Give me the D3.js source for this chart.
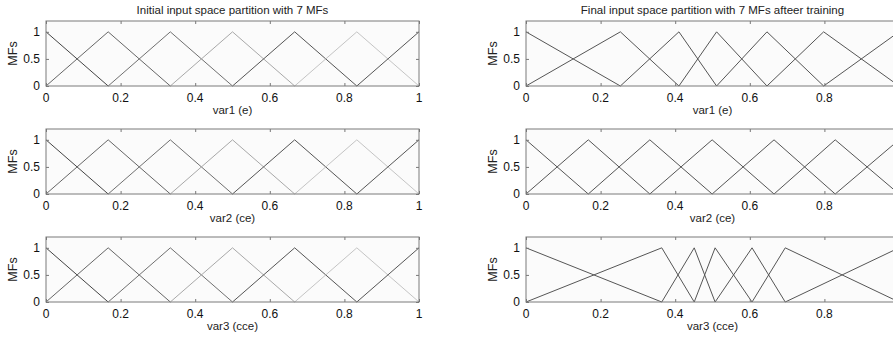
<!DOCTYPE html>
<html>
<head>
<meta charset="utf-8">
<script src="https://cdn.jsdelivr.net/npm/d3@7"></script>
<style>
  html, body { margin: 0; padding: 0; background: #fff; overflow: hidden; }
  svg { display: block; font-family: "Liberation Sans", Arial, Helvetica, sans-serif; }
</style>
</head>
<body>
<svg id="chart" width="893" height="338"></svg>
<script>
// Triangular membership functions [left foot, peak, right foot] for each input.
const initialVar1 = [[-0.1667, 0, 0.1667], [0, 0.1667, 0.3333], [0.1667, 0.3333, 0.5], [0.3333, 0.5, 0.6667], [0.5, 0.6667, 0.8333], [0.6667, 0.8333, 1], [0.8333, 1, 1.1667]];
const initialVar2 = [[-0.1667, 0, 0.1667], [0, 0.1667, 0.3333], [0.1667, 0.3333, 0.5], [0.3333, 0.5, 0.6667], [0.5, 0.6667, 0.8333], [0.6667, 0.8333, 1], [0.8333, 1, 1.1667]];
const initialVar3 = [[-0.1667, 0, 0.1667], [0, 0.1667, 0.3333], [0.1667, 0.3333, 0.5], [0.3333, 0.5, 0.6667], [0.5, 0.6667, 0.8333], [0.6667, 0.8333, 1], [0.8333, 1, 1.1667]];

const trainedVar1 = [[-0.253, 0, 0.253], [0, 0.253, 0.41], [0.253, 0.41, 0.511], [0.41, 0.511, 0.646], [0.511, 0.646, 0.798], [0.646, 0.798, 1.0], [0.798, 1.0, 1.2]];
const trainedVar2 = [[-0.167, 0, 0.167], [0, 0.167, 0.332], [0.167, 0.332, 0.499], [0.332, 0.499, 0.665], [0.499, 0.665, 0.829], [0.665, 0.829, 1.0], [0.829, 1.0, 1.17]];
const trainedVar3 = [[-0.364, 0, 0.364], [0, 0.364, 0.451], [0.364, 0.451, 0.507], [0.451, 0.507, 0.606], [0.507, 0.606, 0.695], [0.606, 0.695, 1.0], [0.695, 1.0, 1.3]];

const xLabels = ["var1 (e)", "var2 (ce)", "var3 (cce)"];
const xTicks = [0, 0.2, 0.4, 0.6, 0.8, 1];
const yTicks = [0, 0.5, 1];
const titles = ["Initial input space partition with 7 MFs", "Final input space partition with 7 MFs afteer training"];

// Grey levels of the seven curves in each column
const initialShades = ["#444", "#666", "#707070", "#a8a8a8", "#555", "#c4c4c4", "#555"];
const trainedShades = ["#555", "#555", "#555", "#555", "#555", "#555", "#555"];

const W = 893;
const svg = d3.select("#chart");

const columns = [
  { left: 46, sets: [initialVar1, initialVar2, initialVar3], shades: initialShades, title: titles[0] },
  { left: 526, sets: [trainedVar1, trainedVar2, trainedVar3], shades: trainedShades, title: titles[1] }
];
const rowTops = [21, 129, 237];
const plotW = 373, plotH = 65;
const fmt = d => String(d);

columns.forEach((col, ci) => {
  const x = d3.scaleLinear().domain([0, 1]).range([col.left, col.left + plotW]);
  // only label ticks that fall inside the page
  const labelled = xTicks.filter(t => x(t) + 4 <= W);

  svg.append("text")
    .attr("x", col.left + plotW / 2).attr("y", 14)
    .attr("text-anchor", "middle")
    .attr("font-size", "11.5px").attr("fill", "#222")
    .text(col.title);

  col.sets.forEach((mfs, ri) => {
    const top = rowTops[ri];
    const y = d3.scaleLinear().domain([0, 1.2]).range([top + plotH, top]);
    const g = svg.append("g");

    g.append("rect")
      .attr("x", x(0)).attr("y", top)
      .attr("width", plotW).attr("height", plotH)
      .attr("fill", "#fbfbfb");

    const clipId = `clip-${ci}-${ri}`;
    g.append("clipPath").attr("id", clipId)
      .append("rect").attr("x", x(0)).attr("y", top - 1)
      .attr("width", plotW).attr("height", plotH + 2);

    const line = d3.line().x(d => x(d[0])).y(d => y(d[1]));
    g.append("g").attr("clip-path", `url(#${clipId})`)
      .selectAll("path").data(mfs).join("path")
      .attr("d", p => line([[p[0], 0], [p[1], 1], [p[2], 0]]))
      .attr("fill", "none")
      .attr("stroke", (p, i) => col.shades[i])
      .attr("stroke-width", 1);

    // Bottom axis with labels, inward ticks
    const bottom = g.append("g")
      .attr("transform", `translate(0,${top + plotH})`)
      .call(d3.axisBottom(x).tickValues(xTicks).tickFormat("").tickSizeInner(-3).tickSizeOuter(0));
    bottom.select(".domain").remove();
    bottom.selectAll("line").attr("stroke", "#777");

    g.selectAll("text.xt").data(labelled).join("text")
      .attr("class", "xt")
      .attr("x", d => x(d)).attr("y", top + plotH + 16)
      .attr("text-anchor", "middle")
      .attr("font-size", "12px").attr("fill", "#111")
      .text(fmt);

    const topAx = g.append("g")
      .attr("transform", `translate(0,${top})`)
      .call(d3.axisTop(x).tickValues(xTicks).tickFormat("").tickSizeInner(-3).tickSizeOuter(0));
    topAx.select(".domain").remove();
    topAx.selectAll("line").attr("stroke", "#777");

    const leftAx = g.append("g")
      .attr("transform", `translate(${x(0)},0)`)
      .call(d3.axisLeft(y).tickValues(yTicks).tickFormat(fmt).tickSizeInner(-3).tickSizeOuter(0).tickPadding(6));
    leftAx.select(".domain").remove();
    leftAx.selectAll("line").attr("stroke", "#777");
    leftAx.selectAll("text").attr("font-size", "12px").attr("fill", "#111")
      .attr("font-family", "Liberation Sans, Arial, sans-serif");

    const rightAx = g.append("g")
      .attr("transform", `translate(${x(1)},0)`)
      .call(d3.axisRight(y).tickValues(yTicks).tickFormat("").tickSizeInner(-3).tickSizeOuter(0));
    rightAx.select(".domain").remove();
    rightAx.selectAll("line").attr("stroke", "#777");

    g.append("rect")
      .attr("x", x(0)).attr("y", top)
      .attr("width", plotW).attr("height", plotH)
      .attr("fill", "none").attr("stroke", "#7a7a7a").attr("stroke-width", 1);

    g.append("text")
      .attr("x", col.left + plotW / 2).attr("y", top + plotH + 28)
      .attr("text-anchor", "middle")
      .attr("font-size", "11.5px").attr("fill", "#222")
      .text(xLabels[ri]);

    g.append("text")
      .attr("transform", `translate(${col.left - 29},${top + plotH / 2}) rotate(-90)`)
      .attr("text-anchor", "middle")
      .attr("font-size", "12.5px").attr("fill", "#222")
      .text("MFs");
  });
});
</script>
</body>
</html>
